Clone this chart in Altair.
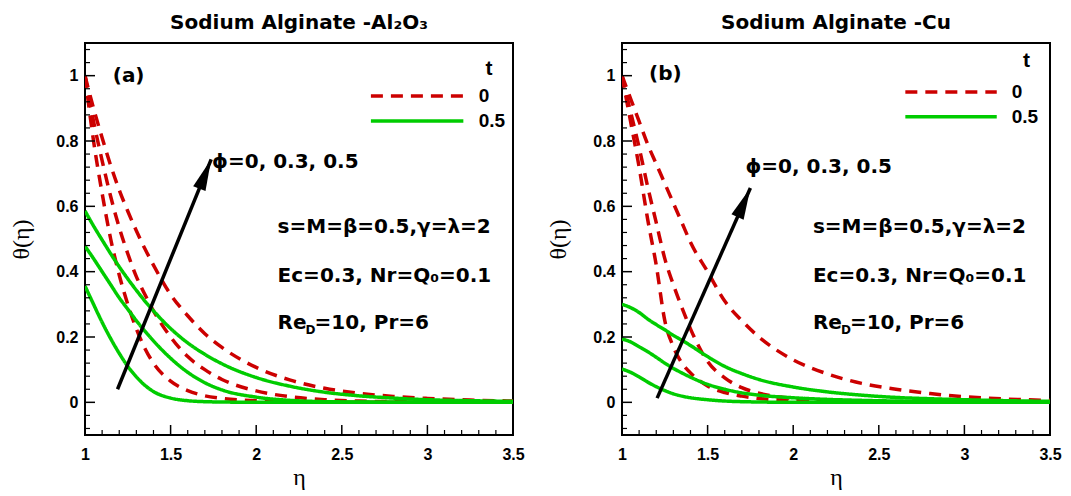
import altair as alt
import pandas as pd

# ---------------- data ----------------
ETA = [1.0, 1.05, 1.1, 1.15, 1.2, 1.25, 1.3, 1.35, 1.4, 1.5, 1.6, 1.7, 1.8,
       2.0, 2.2, 2.4, 2.6, 2.8, 3.0, 3.25, 3.5]

# Panel (a) Sodium Alginate - Al2O3
A_T0_PHI0 = [1, 0.80, 0.64, 0.50, 0.39, 0.30, 0.225, 0.165, 0.12, 0.065, 0.036, 0.02, 0.012,
             0.005, 0.002, 0.0008, 0, 0, 0, 0, 0]
A_T0_PHI3 = [1, 0.86, 0.74, 0.63, 0.535, 0.455, 0.385, 0.33, 0.28, 0.20, 0.14, 0.10, 0.07,
             0.035, 0.017, 0.008, 0.004, 0.002, 0.001, 0, 0]
A_T0_PHI5 = [1, 0.90, 0.81, 0.725, 0.65, 0.585, 0.525, 0.47, 0.42, 0.33, 0.265, 0.21, 0.168,
             0.107, 0.068, 0.043, 0.028, 0.018, 0.012, 0.007, 0.004]
A_T5_PHI0 = [0.356, 0.30, 0.245, 0.195, 0.15, 0.11, 0.078, 0.052, 0.033, 0.013, 0.005, 0.002, 0.001,
             0, 0, 0, 0, 0, 0, 0, 0]
A_T5_PHI3 = [0.478, 0.44, 0.40, 0.36, 0.32, 0.285, 0.25, 0.218, 0.188, 0.135, 0.092, 0.06, 0.038,
             0.016, 0.006, 0.002, 0.001, 0, 0, 0, 0]
A_T5_PHI5 = [0.586, 0.54, 0.497, 0.455, 0.415, 0.378, 0.343, 0.31, 0.28, 0.226, 0.182, 0.147, 0.118,
             0.076, 0.049, 0.031, 0.02, 0.013, 0.008, 0.005, 0.003]

# Panel (b) Sodium Alginate - Cu
B_T0_PHI0 = [1, 0.86, 0.72, 0.56, 0.42, 0.25, 0.17, 0.12, 0.09, 0.05, 0.03, 0.019, 0.012,
             0.006, 0.003, 0.0015, 0.001, 0, 0, 0, 0]
B_T0_PHI3 = [1, 0.89, 0.78, 0.66, 0.55, 0.44, 0.36, 0.29, 0.225, 0.125, 0.075, 0.045, 0.028,
             0.012, 0.006, 0.003, 0.0015, 0.001, 0, 0, 0]
B_T0_PHI5 = [1, 0.93, 0.86, 0.79, 0.73, 0.67, 0.61, 0.55, 0.49, 0.40, 0.31, 0.25, 0.20,
             0.13, 0.087, 0.058, 0.04, 0.027, 0.017, 0.01, 0.006]
B_T5_PHI0 = [0.102, 0.092, 0.078, 0.062, 0.048, 0.036, 0.026, 0.019, 0.014, 0.008, 0.004, 0.002, 0.001,
             0, 0, 0, 0, 0, 0, 0, 0]
B_T5_PHI3 = [0.194, 0.185, 0.17, 0.155, 0.138, 0.12, 0.104, 0.09, 0.077, 0.055, 0.04, 0.029, 0.022,
             0.014, 0.009, 0.006, 0.004, 0.003, 0.002, 0.001, 0.001]
B_T5_PHI5 = [0.30, 0.29, 0.275, 0.255, 0.238, 0.222, 0.205, 0.19, 0.174, 0.14, 0.11, 0.088, 0.07,
             0.047, 0.032, 0.022, 0.015, 0.011, 0.008, 0.005, 0.003]

T_LEVELS = ["0", "0.5"]
PHI_LEVELS = ["0", "0.3", "0.5"]

X_LABELS = [1, 1.5, 2, 2.5, 3, 3.5]
Y_LABELS = [0, 0.2, 0.4, 0.6, 0.8, 1]
X_MINOR = [1.1, 1.2, 1.3, 1.4, 1.6, 1.7, 1.8, 1.9, 2.1, 2.2, 2.3, 2.4, 2.6, 2.7, 2.8, 2.9,
           3.1, 3.2, 3.3, 3.4]
Y_MINOR = [-0.08, -0.04, 0.04, 0.08, 0.12, 0.16, 0.24, 0.28, 0.32, 0.36, 0.44, 0.48, 0.52, 0.56,
           0.64, 0.68, 0.72, 0.76, 0.84, 0.88, 0.92, 0.96, 1.04, 1.08]

TITLES = ["Sodium Alginate -Al\u2082O\u2083", "Sodium Alginate -Cu"]
PANEL_TAGS = ["(a)", "(b)"]
TAG_POS = [(1.162, 1.0), (1.158, 1.005)]
PHI_TEXT = "\u03d5=0, 0.3, 0.5"
PHI_POS = [(1.742, 0.736), (1.721, 0.72)]
PARAM_LINES = ["s=M=\u03b2=0.5,\u03b3=\u03bb=2", "Ec=0.3, Nr=Q\u2080=0.1"]
PARAM_Y = [0.536, 0.386]
PARAM_X = [2.125, 2.115]
RE_PARTS = ["Re", "D", "=10, Pr=6"]
RE_Y = 0.242
ARROW_X = [[1.19, 1.737], [1.205, 1.75]]
ARROW_Y = [[0.04, 0.744], [0.013, 0.656]]
ARROW_ANGLE = [22, 24]
LEG_X = [[2.67, 3.21], [2.655, 3.189]]
LEG_Y = [[0.938, 0.861], [0.950, 0.874]]
LEG_LABEL_X = [3.30, 3.276]
LEG_TITLE_POS = [(3.36, 1.02), (3.363, 1.045)]

RED = "#CC0000"
GREEN = "#00CC00"
W, H = 428, 392

X_ENC = alt.X("eta:Q", scale=alt.Scale(domain=[1, 3.5], nice=False, zero=False),
              axis=alt.Axis(values=X_LABELS, format="~g", title="\u03b7", labelFlush=False))
Y_ENC = alt.Y("theta:Q", scale=alt.Scale(domain=[-0.1, 1.1], nice=False, zero=False),
              axis=alt.Axis(values=Y_LABELS, format="~g", title="\u03b8(\u03b7)", labelFlush=False))
COLOR = alt.Color("t:N", scale=alt.Scale(domain=T_LEVELS, range=[RED, GREEN]), legend=None)
DASH = alt.StrokeDash("t:N", scale=alt.Scale(domain=T_LEVELS, range=[[12, 8], [1, 0]]), legend=None)

BOLD = "DejaVu Sans"


def curves_df(series):
    rows = []
    for (t, phi), vals in series:
        for e, v in zip(ETA, vals):
            rows.append({"eta": e, "theta": v, "t": t, "phi": phi, "key": t + "_" + phi})
    return pd.DataFrame(rows)


def text_layer(labels, xs, ys, size, font=BOLD, dx=0, dy=0, align="left", weight="bold"):
    df = pd.DataFrame({"eta": xs, "theta": ys, "label": labels})
    return alt.Chart(df).mark_text(align=align, baseline="middle", font=font, fontSize=size,
                                   fontWeight=weight, color="black", dx=dx, dy=dy).encode(
        x=X_ENC, y=Y_ENC, text="label:N")


def panel(i, series):
    df = curves_df(series)
    lines = alt.Chart(df).mark_line(strokeWidth=3.5, interpolate="monotone", clip=True).encode(
        x=X_ENC, y=Y_ENC, color=COLOR, strokeDash=DASH, detail="key:N",
        order=alt.Order("eta:Q"))

    # inward ticks
    xmaj = alt.Chart(pd.DataFrame({"eta": X_LABELS})).mark_rule(color="black", strokeWidth=1.5).encode(
        x=X_ENC, y=alt.value(H), y2=alt.value(H - 10))
    xmin = alt.Chart(pd.DataFrame({"eta": X_MINOR})).mark_rule(color="black", strokeWidth=1.2).encode(
        x=X_ENC, y=alt.value(H), y2=alt.value(H - 5))
    ymaj = alt.Chart(pd.DataFrame({"theta": Y_LABELS})).mark_rule(color="black", strokeWidth=1.5).encode(
        y=Y_ENC, x=alt.value(0), x2=alt.value(10))
    ymin = alt.Chart(pd.DataFrame({"theta": Y_MINOR})).mark_rule(color="black", strokeWidth=1.2).encode(
        y=Y_ENC, x=alt.value(0), x2=alt.value(5))

    # arrow
    adf = pd.DataFrame({"eta": ARROW_X[i], "theta": ARROW_Y[i]})
    arrow = alt.Chart(adf).mark_line(color="black", strokeWidth=3.5).encode(x=X_ENC, y=Y_ENC)
    head = alt.Chart(adf.iloc[[1]]).mark_point(
        shape="M0,0L0.42,2L-0.42,2Z", size=1000, angle=ARROW_ANGLE[i], filled=True,
        color="black", opacity=1).encode(x=X_ENC, y=Y_ENC)

    # legend
    ldf = pd.DataFrame({
        "eta": [LEG_X[i][0], LEG_X[i][1], LEG_X[i][0], LEG_X[i][1]],
        "theta": [LEG_Y[i][0], LEG_Y[i][0], LEG_Y[i][1], LEG_Y[i][1]],
        "t": ["0", "0", "0.5", "0.5"],
    })
    leg_lines = alt.Chart(ldf).mark_line(strokeWidth=3.5).encode(
        x=X_ENC, y=Y_ENC, color=COLOR, strokeDash=DASH, detail="t:N")
    leg_labels = text_layer(T_LEVELS, [LEG_LABEL_X[i]] * 2, LEG_Y[i], 19, font="Liberation Sans")
    leg_title = text_layer(["t"], [LEG_TITLE_POS[i][0]], [LEG_TITLE_POS[i][1]], 21,
                           font="Liberation Sans", align="center")

    tag = text_layer([PANEL_TAGS[i]], [TAG_POS[i][0]], [TAG_POS[i][1]], 20)
    phi = text_layer([PHI_TEXT], [PHI_POS[i][0]], [PHI_POS[i][1]], 20)
    params = text_layer(PARAM_LINES, [PARAM_X[i]] * 2, PARAM_Y, 20)
    re1 = text_layer([RE_PARTS[0]], [PARAM_X[i]], [RE_Y], 20)
    re2 = text_layer([RE_PARTS[1]], [PARAM_X[i]], [RE_Y], 12, dx=28, dy=7)
    re3 = text_layer([RE_PARTS[2]], [PARAM_X[i]], [RE_Y], 20, dx=37)

    return alt.layer(lines, xmaj, xmin, ymaj, ymin, arrow, head, leg_lines, leg_labels, leg_title,
                     tag, phi, params, re1, re2, re3).properties(
        width=W, height=H,
        title=alt.TitleParams(TITLES[i], font=BOLD, fontSize=20, fontWeight="bold",
                              anchor="middle", frame="group", offset=10, color="black"))


series_a = [(("0", "0"), A_T0_PHI0), (("0", "0.3"), A_T0_PHI3), (("0", "0.5"), A_T0_PHI5),
            (("0.5", "0"), A_T5_PHI0), (("0.5", "0.3"), A_T5_PHI3), (("0.5", "0.5"), A_T5_PHI5)]
series_b = [(("0", "0"), B_T0_PHI0), (("0", "0.3"), B_T0_PHI3), (("0", "0.5"), B_T0_PHI5),
            (("0.5", "0"), B_T5_PHI0), (("0.5", "0.3"), B_T5_PHI3), (("0.5", "0.5"), B_T5_PHI5)]

chart = alt.hconcat(panel(0, series_a), panel(1, series_b), spacing=19).configure_view(
    stroke="black", strokeWidth=2
).configure_axis(
    domain=False, ticks=False, grid=False,
    labelFont="Liberation Sans", labelFontWeight="bold", labelFontSize=16, labelColor="black",
    titleFont="Liberation Serif", titleFontSize=24, titleFontWeight="normal", titleColor="black",
    labelOverlap=False,
).configure_axisX(labelPadding=11, titlePadding=3).configure_axisY(
    labelPadding=7, titlePadding=22
).properties(background="white", padding={"left": 0, "top": 4, "right": 0, "bottom": 0})

chart.save("out.html", embed_options={"renderer": "svg", "actions": False})
